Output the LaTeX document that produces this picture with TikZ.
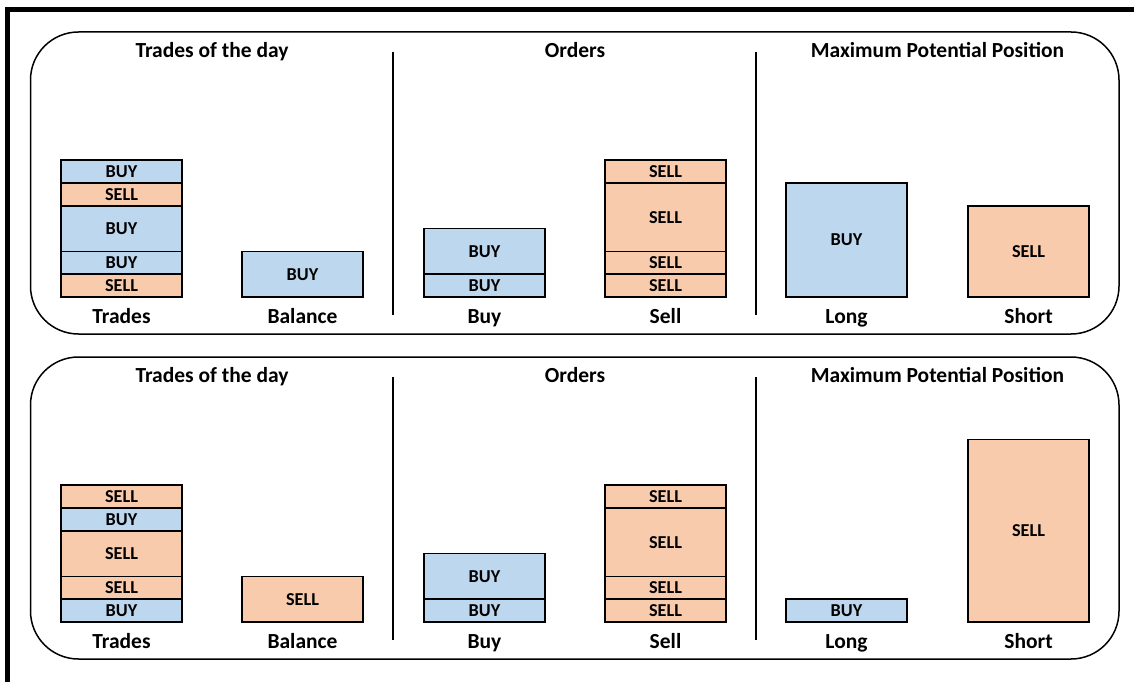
\documentclass[tikz,border=0pt]{standalone}
\usepackage{fontspec}
\setmainfont{Carlito}
\usetikzlibrary{positioning}
\definecolor{buyblue}{HTML}{BDD7EE}
\definecolor{sellorange}{HTML}{F8CBAD}

\begin{document}
\begin{tikzpicture}[
		x=1pt,
		y=-1pt,
		node distance=0pt,
		seg/.style={draw, line width=1.5pt, minimum width=121pt, inner sep=0pt, outer sep=0pt,
			font=\fontsize{18.2}{19}\selectfont\bfseries},
		buy/.style={seg, fill=buyblue},
		sell/.style={seg, fill=sellorange},
		units/.style={minimum height=#1*22.8pt},
		title/.style={font=\fontsize{21.5}{23}\selectfont\bfseries, anchor=base, inner sep=0pt},
		axis label/.style={font=\fontsize{21.5}{23}\selectfont\bfseries, inner sep=0pt,
			text height=15pt, text depth=4pt},
		panel/.style={line width=1.5pt, rounded corners=48pt},
		divider/.style={line width=1.5pt}
		]
		\useasboundingbox (0,0) rectangle (1134,682);
		\draw[line width=4.5pt] (7.5,682) -- (7.5,9.5) -- (1134,9.5);

		% top panel
		\draw[panel] (30.5,32) rectangle (1119,334);
		\draw[divider] (393,52) -- (393,315);
		\draw[divider] (756,52) -- (756,315);
		\node[title] (ttrades) at (212,57.5) {Trades of the day};
		\node[title] (torders) at (575,57.5) {Orders};
		\node[title] (tmax) at (937.5,57.5) {Maximum Potential Position};

		\node[sell, units=1, anchor=south] (ttr5) at (121.5,297) {SELL};
		\node[buy, units=1, above=of ttr5] (ttr4) {BUY};
		\node[buy, units=2, above=of ttr4] (ttr3) {BUY};
		\node[sell, units=1, above=of ttr3] (ttr2) {SELL};
		\node[buy, units=1, above=of ttr2] (ttr1) {BUY};
		\node[buy, units=2, anchor=south] (tbal) at (302.5,297) {BUY};
		\node[buy, units=1, anchor=south] (tbuy2) at (484.5,297) {BUY};
		\node[buy, units=2, above=of tbuy2] (tbuy1) {BUY};
		\node[sell, units=1, anchor=south] (tsell4) at (665.5,297) {SELL};
		\node[sell, units=1, above=of tsell4] (tsell3) {SELL};
		\node[sell, units=3, above=of tsell3] (tsell2) {SELL};
		\node[sell, units=1, above=of tsell2] (tsell1) {SELL};
		\node[buy, units=5, anchor=south] (tlong) at (846.5,297) {BUY};
		\node[sell, units=4, anchor=south] (tshort) at (1028.5,297) {SELL};

		\node[axis label, below=11pt of ttr5] {Trades};
		\node[axis label, below=11pt of tbal] {Balance};
		\node[axis label, below=11pt of tbuy2] {Buy};
		\node[axis label, below=11pt of tsell4] {Sell};
		\node[axis label, below=11pt of tlong] {Long};
		\node[axis label, below=11pt of tshort] {Short};

		% bottom panel
		\draw[panel] (30.5,357) rectangle (1119,659);
		\draw[divider] (393,377) -- (393,640);
		\draw[divider] (756,377) -- (756,640);
		\node[title] (btrades) at (212,382.5) {Trades of the day};
		\node[title] (borders) at (575,382.5) {Orders};
		\node[title] (bmax) at (937.5,382.5) {Maximum Potential Position};

		\node[buy, units=1, anchor=south] (btr5) at (121.5,622) {BUY};
		\node[sell, units=1, above=of btr5] (btr4) {SELL};
		\node[sell, units=2, above=of btr4] (btr3) {SELL};
		\node[buy, units=1, above=of btr3] (btr2) {BUY};
		\node[sell, units=1, above=of btr2] (btr1) {SELL};
		\node[sell, units=2, anchor=south] (bbal) at (302.5,622) {SELL};
		\node[buy, units=1, anchor=south] (bbuy2) at (484.5,622) {BUY};
		\node[buy, units=2, above=of bbuy2] (bbuy1) {BUY};
		\node[sell, units=1, anchor=south] (bsell4) at (665.5,622) {SELL};
		\node[sell, units=1, above=of bsell4] (bsell3) {SELL};
		\node[sell, units=3, above=of bsell3] (bsell2) {SELL};
		\node[sell, units=1, above=of bsell2] (bsell1) {SELL};
		\node[buy, units=1, anchor=south] (blong) at (846.5,622) {BUY};
		\node[sell, units=8, anchor=south] (bshort) at (1028.5,622) {SELL};

		\node[axis label, below=11pt of btr5] {Trades};
		\node[axis label, below=11pt of bbal] {Balance};
		\node[axis label, below=11pt of bbuy2] {Buy};
		\node[axis label, below=11pt of bsell4] {Sell};
		\node[axis label, below=11pt of blong] {Long};
		\node[axis label, below=11pt of bshort] {Short};
	\end{tikzpicture}
\end{document}
